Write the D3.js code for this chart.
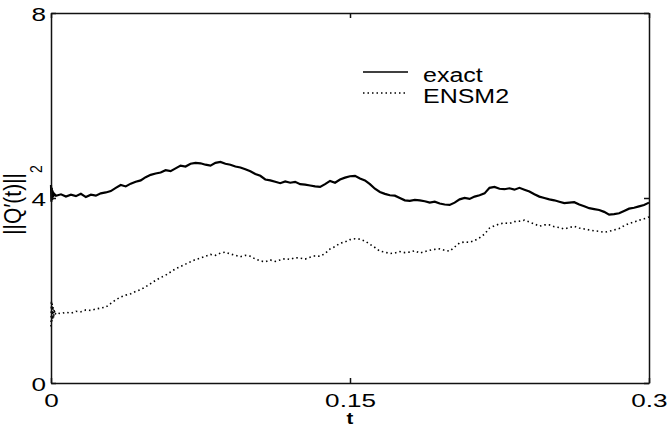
<!DOCTYPE html>
<html>
<head>
<meta charset="utf-8">
<script src="https://cdn.jsdelivr.net/npm/d3@7"></script>
<style>
  body { margin: 0; background: #fff; }
  svg { display: block; font-family: "Liberation Sans", Arial, sans-serif; }
  .axis path, .axis line { stroke: #111; stroke-width: 1.5; }
  .axis text { font-size: 18px; fill: #000; }
</style>
</head>
<body>
<svg id="chart" width="668" height="427"></svg>
<script>
// time grid step (t runs from 0 to 0.3)
const tStep = 0.0025;

// ||Q'(t)||_2, exact solution
const exactValues = [
  4.10, 4.05, 4.08, 4.03, 4.07, 4.04, 4.09, 4.02, 4.07, 4.05,
  4.10, 4.12, 4.15, 4.22, 4.28, 4.25, 4.31, 4.35, 4.38, 4.45,
  4.50, 4.53, 4.55, 4.60, 4.58, 4.64, 4.70, 4.68, 4.74, 4.76,
  4.75, 4.72, 4.70, 4.76, 4.78, 4.74, 4.72, 4.68, 4.66, 4.62,
  4.58, 4.52, 4.48, 4.40, 4.38, 4.35, 4.32, 4.36, 4.33, 4.35,
  4.30, 4.29, 4.27, 4.25, 4.24, 4.30, 4.37, 4.33, 4.40, 4.44,
  4.47, 4.48, 4.42, 4.38, 4.30, 4.20, 4.13, 4.09, 4.06, 4.05,
  4.00, 3.95, 3.94, 3.96, 3.95, 3.93, 3.90, 3.92, 3.88, 3.86,
  3.85, 3.90, 3.97, 4.00, 3.98, 4.03, 4.06, 4.10, 4.22, 4.24,
  4.20, 4.19, 4.21, 4.18, 4.22, 4.18, 4.14, 4.08, 4.03, 4.00,
  3.97, 3.95, 3.92, 3.89, 3.90, 3.91, 3.86, 3.82, 3.78, 3.76,
  3.74, 3.70, 3.64, 3.65, 3.67, 3.72, 3.77, 3.79, 3.82, 3.85,
  3.90
];

// ENSM2 approximation
const ensmValues = [
  1.45, 1.52, 1.50, 1.53, 1.51, 1.55, 1.54, 1.58, 1.57, 1.60,
  1.62, 1.64, 1.72, 1.80, 1.86, 1.90, 1.93, 1.98, 2.02, 2.08,
  2.15, 2.22, 2.28, 2.33, 2.40, 2.47, 2.52, 2.57, 2.62, 2.67,
  2.70, 2.74, 2.78, 2.76, 2.81, 2.83, 2.79, 2.76, 2.73, 2.76,
  2.74, 2.68, 2.64, 2.62, 2.66, 2.63, 2.66, 2.69, 2.67, 2.71,
  2.70, 2.68, 2.72, 2.75, 2.74, 2.80, 2.90, 2.95, 3.02, 3.05,
  3.10, 3.12, 3.11, 3.07, 3.00, 2.93, 2.85, 2.83, 2.80, 2.81,
  2.84, 2.82, 2.83, 2.86, 2.81, 2.84, 2.87, 2.89, 2.90, 2.87,
  2.85, 2.94, 3.03, 3.05, 3.04, 3.08, 3.14, 3.22, 3.35, 3.40,
  3.44, 3.46, 3.45, 3.49, 3.50, 3.52, 3.48, 3.44, 3.39, 3.42,
  3.42, 3.38, 3.36, 3.33, 3.36, 3.39, 3.35, 3.33, 3.31, 3.29,
  3.28, 3.26, 3.28, 3.31, 3.34, 3.40, 3.45, 3.48, 3.52, 3.55,
  3.59
];

// short start-up transients near t = 0
const exactStartT = [0, 0.0002, 0.0004, 0.0006, 0.0008, 0.0011, 0.0014];
const exactStartV = [4.28, 3.92, 4.22, 3.96, 4.16, 4.02, 4.10];
const ensmStartT = [0, 0.0002, 0.0004, 0.0006, 0.0008, 0.0010, 0.0013, 0.0016, 0.0020];
const ensmStartV = [1.22, 1.78, 1.30, 1.72, 1.36, 1.66, 1.40, 1.60, 1.47];

const xTicks = [0, 0.15, 0.3];
const xTickLabels = ['0', '0.15', '0.3'];
const yTicks = [0, 4, 8];

const seriesNames = ['exact', 'ENSM2'];

const margin = { top: 13, right: 19, bottom: 44, left: 51 };
const width = 668 - margin.left - margin.right;
const height = 427 - margin.top - margin.bottom;
const stretch = 1.45;       // tick digits in the original are wide
const legendStretch = 1.25;

const svg = d3.select('#chart');
const g = svg.append('g').attr('transform', `translate(${margin.left},${margin.top})`);

const x = d3.scaleLinear().domain([0, 0.3]).range([0, width]);
const y = d3.scaleLinear().domain([0, 8]).range([height, 0]);

function toPoints(startT, startV, values) {
  const pts = startT.map((t, i) => ({ t, v: startV[i] }));
  values.forEach((v, i) => {
    const t = i * tStep;
    if (t > startT[startT.length - 1]) pts.push({ t, v });
  });
  return pts;
}

const exactPts = toPoints(exactStartT, exactStartV, exactValues);
const ensmPts = toPoints(ensmStartT, ensmStartV, ensmValues);

const line = d3.line().x(d => x(d.t)).y(d => y(d.v));

// curves
g.append('path')
  .datum(ensmPts)
  .attr('fill', 'none')
  .attr('stroke', '#000')
  .attr('stroke-width', 1.6)
  .attr('stroke-dasharray', '1.5,3')
  .attr('d', line);

g.append('path')
  .datum(exactPts)
  .attr('fill', 'none')
  .attr('stroke', '#000')
  .attr('stroke-width', 2.2)
  .attr('d', line);

// axes, ticks pointing inward on all four sides
g.append('g')
  .attr('class', 'axis')
  .attr('transform', `translate(0,${height})`)
  .call(d3.axisBottom(x).tickValues(xTicks).tickFormat((d, i) => xTickLabels[i])
    .tickSizeInner(-5).tickSizeOuter(0).tickPadding(11))
  .selectAll('text')
    .attr('transform', `scale(${stretch},1)`);

g.append('g')
  .attr('class', 'axis')
  .call(d3.axisLeft(y).tickValues(yTicks).tickFormat(d3.format('d'))
    .tickSizeInner(-5).tickSizeOuter(0))
  .selectAll('text')
    .attr('x', 0)
    .attr('dy', '0.42em')
    .attr('transform', `translate(-5,0) scale(${stretch},1)`);

g.append('g')
  .attr('class', 'axis')
  .call(d3.axisTop(x).tickValues(xTicks).tickFormat('').tickSizeInner(-5).tickSizeOuter(0));

g.append('g')
  .attr('class', 'axis')
  .attr('transform', `translate(${width},0)`)
  .call(d3.axisRight(y).tickValues(yTicks).tickFormat('').tickSizeInner(-5).tickSizeOuter(0));

// axis titles
g.append('text')
  .attr('text-anchor', 'middle')
  .attr('transform', `translate(${width / 2},${height + 41}) scale(1.2,1)`)
  .style('font-size', '17px')
  .style('font-weight', 'bold')
  .text('t');

const yTitle = svg.append('text')
  .attr('text-anchor', 'middle')
  .attr('transform', 'translate(21,200) rotate(-90) scale(1,1.15)')
  .style('font-size', '21px');
yTitle.append('tspan').text('||Q′(t)||');
yTitle.append('tspan').attr('dy', 18).style('font-size', '14px').text('2');

// legend
const legend = svg.append('g').attr('transform', 'translate(363,0)');
const legendY = [72, 93];
seriesNames.forEach((name, i) => {
  legend.append('line')
    .attr('x1', 0).attr('x2', 45)
    .attr('y1', legendY[i]).attr('y2', legendY[i])
    .attr('stroke', '#000')
    .attr('stroke-width', i === 0 ? 1.5 : 1.6)
    .attr('stroke-dasharray', i === 0 ? null : '1.5,3');
  legend.append('text')
    .attr('transform', `translate(60,${legendY[i] + 6}) scale(${legendStretch},1)`)
    .attr('dy', '0.2em')
    .style('font-size', '20px')
    .text(name);
});
</script>
</body>
</html>
